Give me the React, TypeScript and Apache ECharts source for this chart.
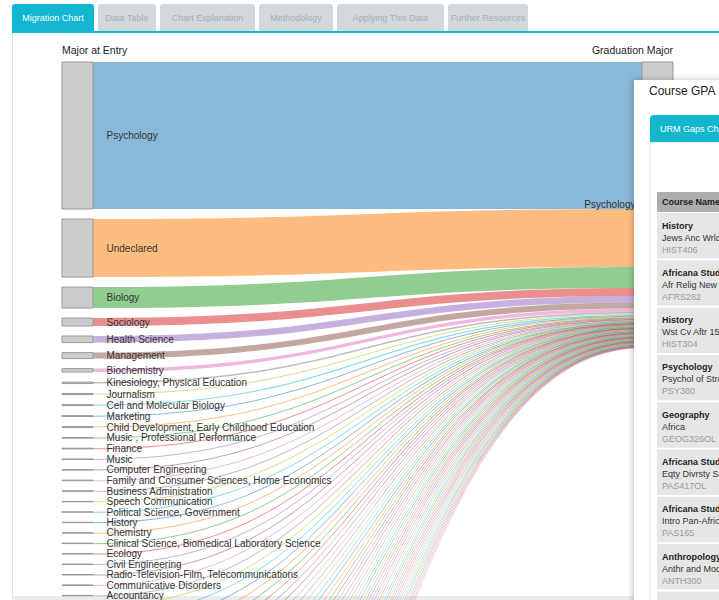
import React, { useEffect, useRef } from "react";
import * as echarts from "echarts";

// ---------- data ----------
const entryMajors = [
  "Psychology",
  "Undeclared",
  "Biology",
  "Sociology",
  "Health Science",
  "Management",
  "Biochemistry",
  "Kinesiology, Physical Education",
  "Journalism",
  "Cell and Molecular Biology",
  "Marketing",
  "Child Development, Early Childhood Education",
  "Music , Professional Performance",
  "Finance",
  "Music",
  "Computer Engineering",
  "Family and Consumer Sciences, Home Economics",
  "Business Administration",
  "Speech Communication",
  "Political Science, Government",
  "History",
  "Chemistry",
  "Clinical Science, Biomedical Laboratory Science",
  "Ecology",
  "Civil Engineering",
  "Radio-Television-Film, Telecommunications",
  "Communicative Disorders",
  "Accountancy",
];
const entryCounts = [
  980, 387, 140, 53, 44, 40, 23, 10, 7, 7, 6, 6, 5, 5, 4, 4, 4, 4, 3, 3, 3, 3,
  3, 3, 3, 3, 3, 3,
];

// entry majors further down the list (below the visible part of the page)
const lowerMajors = [
  "Art", "English", "Nursing", "Criminal Justice", "Liberal Studies",
  "Mechanical Engineering", "Electrical Engineering", "Computer Science",
  "Mathematics", "Physics", "Geology", "Anthropology", "Philosophy", "Spanish",
  "French", "Theatre Arts", "Dance", "Film Studies", "Graphic Design",
  "Interior Design", "Nutrition", "Public Health", "Social Work", "Economics",
  "Geography", "Environmental Studies", "Urban Studies", "Africana Studies",
  "Asian American Studies", "Chicano Studies", "Women's Studies",
  "Religious Studies", "Linguistics", "Art History", "Photography",
  "Information Systems", "Hospitality Management", "Recreation",
  "Athletic Training", "Microbiology", "Zoology", "Botany", "Marine Biology",
  "Physiology", "Statistics", "Architecture", "Industrial Design",
  "Aerospace Engineering", "Chemical Engineering",
];
const lowerCounts = [
  3, 3, 3, 3, 3, 3, 3, 3, 3, 3, 3, 3, 3, 3, 3, 3, 3, 3, 3, 3, 3, 3, 3, 3, 3, 3,
  3, 3, 3, 3, 3, 3, 3, 3, 3, 3, 3, 3, 3, 3, 3, 3, 3, 3, 3, 3, 3, 3, 3,
];

const graduationMajor = "Psychology";

const palette = [
  "#1f77b4", "#ff7f0e", "#2ca02c", "#d62728", "#9467bd",
  "#8c564b", "#e377c2", "#7f7f7f", "#bcbd22", "#17becf",
];

const tabLabels = [
  "Migration Chart", "Data Table", "Chart Explanation", "Methodology",
  "Applying This Data", "Further Resources",
];

const courseDepts = [
  "History", "Africana Studies", "History", "Psychology", "Geography",
  "Africana Studies", "Africana Studies", "Anthropology",
];
const courseTitles = [
  "Jews Anc Wrld", "Afr Relig New World", "Wst Cv Aftr 1500",
  "Psychol of Stress", "Africa", "Eqty Divrsty Soc Just",
  "Intro Pan-African Studies", "Anthr and Mod World",
];
const courseCodes = [
  "HIST406", "AFRS282", "HIST304", "PSY380", "GEOG326OL", "PAS417OL",
  "PAS165", "ANTH300",
];

// ---------- layout constants ----------
const W = 719;
const H = 600;
const TEAL = "#12b7cf";
const FONT = '"Liberation Sans", Arial, Helvetica, sans-serif';
const PX_PER_STUDENT = 0.15;
const NODE_GAP = 10;
const GRAD_NODE = "Psychology (graduation)";
const tabX = [12, 98, 160, 259, 337, 448];
const tabW = [82, 58, 95, 74, 107, 80];

export default function App() {
  const ref = useRef<HTMLDivElement>(null);

  useEffect(() => {
    if (!ref.current) return;
    const chart = echarts.init(ref.current, null, { renderer: "svg" });

    const allMajors = entryMajors.concat(lowerMajors);
    const allCounts = entryCounts.concat(lowerCounts);
    const total = allCounts.reduce((a, b) => a + b, 0);
    const sankeyHeight =
      total * PX_PER_STUDENT + (allMajors.length - 1) * NODE_GAP;

    const nodes: any[] = allMajors.map((name, i) => ({
      name,
      label: { show: i < entryMajors.length },
    }));
    nodes.push({
      name: GRAD_NODE,
      label: {
        show: true,
        position: "left",
        distance: 6,
        formatter: graduationMajor,
      },
    });
    const links = allMajors.map((name, i) => ({
      source: name,
      target: GRAD_NODE,
      value: allCounts[i],
      lineStyle: { color: palette[i % palette.length] },
    }));

    const txt = (
      text: string,
      x: number,
      y: number,
      size: number,
      fill: string,
      opts: any = {}
    ) => ({
      type: "text",
      z: opts.z ?? 10,
      style: {
        text,
        x,
        y,
        fill,
        font: `${opts.bold ? "bold " : ""}${size}px ${FONT}`,
        textAlign: opts.align || "left",
        textVerticalAlign: "middle",
        align: opts.align || "left",
        verticalAlign: "middle",
      },
    });

    const graphics: any[] = [];

    // tabs
    tabLabels.forEach((label, i) => {
      const active = i === 0;
      graphics.push({
        type: "rect",
        z: 5,
        shape: { x: tabX[i], y: 4, width: tabW[i], height: 28, r: [3, 3, 0, 0] },
        style: { fill: active ? TEAL : "#d2d8dc" },
      });
      graphics.push(
        txt(label, tabX[i] + tabW[i] / 2, 17.5, 9, active ? "#ffffff" : "#a7afb4", {
          align: "center",
          z: 6,
        })
      );
    });
    graphics.push({
      type: "rect",
      z: 6,
      shape: { x: 12, y: 31, width: W - 12, height: 2 },
      style: { fill: TEAL },
    });
    // left content border and bottom strip
    graphics.push({
      type: "rect",
      z: 1,
      shape: { x: 12, y: 33, width: 1, height: H - 33 },
      style: { fill: "#e3e6e8" },
    });
    graphics.push({
      type: "rect",
      z: 1,
      shape: { x: 12, y: 596, width: 623, height: 4 },
      style: { fill: "#ececec" },
    });

    // column titles
    graphics.push(txt("Major at Entry", 62, 49.5, 10.5, "#222"));
    graphics.push(txt("Graduation Major", 673, 49.5, 10.5, "#222", { align: "right" }));

    // overlapping "Course GPA" panel
    graphics.push({
      type: "rect",
      z: 20,
      shape: { x: 634, y: 80, width: 120, height: 540 },
      style: {
        fill: "#ffffff",
        shadowBlur: 6,
        shadowColor: "rgba(0,0,0,0.25)",
        shadowOffsetX: -1,
      },
    });
    graphics.push(txt("Course GPA", 649, 90.5, 12, "#222", { z: 21 }));
    graphics.push({
      type: "rect",
      z: 21,
      shape: { x: 650, y: 142, width: 100, height: 480 },
      style: { fill: "#ffffff", stroke: "#dddddd", lineWidth: 1 },
    });
    graphics.push({
      type: "rect",
      z: 22,
      shape: { x: 650, y: 115, width: 100, height: 27, r: [4, 0, 0, 0] },
      style: { fill: TEAL },
    });
    graphics.push(txt("URM Gaps Chart", 660, 128.5, 9, "#ffffff", { z: 23 }));
    graphics.push({
      type: "rect",
      z: 22,
      shape: { x: 657, y: 192, width: 80, height: 20 },
      style: { fill: "#adadad" },
    });
    graphics.push(txt("Course Name", 662, 202, 9, "#222", { z: 23, bold: true }));
    for (let i = 0; i < courseDepts.length + 1; i++) {
      const y0 = 213 + i * 47.3;
      graphics.push({
        type: "rect",
        z: 22,
        shape: { x: 657, y: y0, width: 80, height: 45.5 },
        style: { fill: "#e6e6e6" },
      });
      if (i < courseDepts.length) {
        graphics.push(txt(courseDepts[i], 662, y0 + 12.5, 9, "#222", { z: 23, bold: true }));
        graphics.push(txt(courseTitles[i], 662, y0 + 24.5, 9, "#333", { z: 23 }));
        graphics.push(txt(courseCodes[i], 662, y0 + 36.5, 9, "#9a9a9a", { z: 23 }));
      }
    }

    const option: any = {
      animation: false,
      backgroundColor: "#ffffff",
      graphic: { elements: graphics },
      series: [
        {
          type: "sankey",
          z: 2,
          left: 62,
          top: 62,
          width: 673 - 62,
          height: sankeyHeight,
          nodeWidth: 31,
          nodeGap: NODE_GAP,
          layoutIterations: 0,
          draggable: false,
          emphasis: { disabled: true },
          data: nodes,
          links,
          itemStyle: { color: "#cccccc", borderColor: "#9a9a9a", borderWidth: 1 },
          lineStyle: { opacity: 0.52, curveness: 0.5 },
          label: {
            position: "right",
            distance: 13,
            fontSize: 10,
            color: "#333",
            fontFamily: FONT,
          },
        },
      ],
    };

    chart.setOption(option);
    return () => chart.dispose();
  }, []);

  return (
    <div
      style={{
        position: "fixed",
        left: 0,
        top: 0,
        width: W,
        height: H,
        overflow: "hidden",
        background: "#fff",
      }}
    >
      <div ref={ref} style={{ width: W, height: H }} />
    </div>
  );
}
